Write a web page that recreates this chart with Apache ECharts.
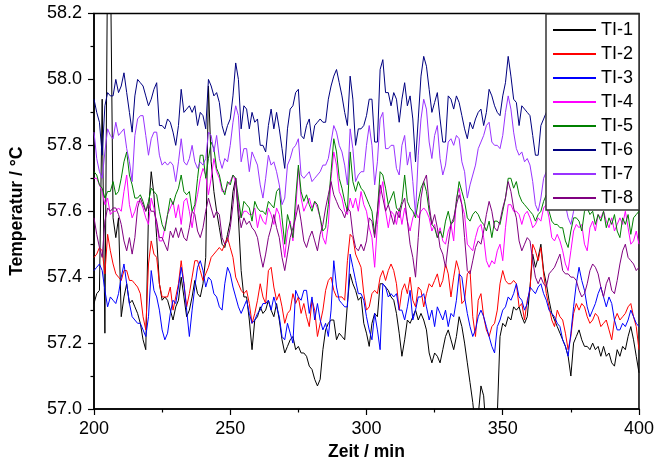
<!DOCTYPE html>
<html>
<head>
<meta charset="utf-8">
<script src="https://cdn.jsdelivr.net/npm/echarts@6/dist/echarts.min.js"></script>
<style>
html,body{margin:0;padding:0;background:#fff;}
#chart{width:657px;height:466px;}
</style>
</head>
<body>
<div id="chart"></div>
<script>
// Time axis: one sample per minute, 200 ... 400 min
const startMinute = 200;
const stepMinute = 1;

const seriesNames = ['TI-1','TI-2','TI-3','TI-4','TI-5','TI-6','TI-7','TI-8'];
const seriesColors = ['#000000','#ff0000','#0000ff','#ff00ff','#008000','#000080','#9933ff','#800080'];

const TI1 = [
57.32,57.35,57.36,57.94,57.23,58.40,58.40,57.58,57.52,57.58,
57.28,57.34,57.38,57.32,57.33,57.31,57.29,57.26,57.21,57.18,
57.60,57.72,57.65,57.52,57.38,57.33,57.34,57.33,57.30,57.27,
57.31,57.33,57.40,57.34,57.28,57.30,57.34,57.39,57.35,57.34,
57.38,57.46,57.98,57.75,57.66,57.60,57.55,57.50,57.49,57.53,
57.57,57.66,57.70,57.58,57.42,57.34,57.34,57.27,57.18,57.27,
57.28,57.31,57.29,57.30,57.33,57.30,57.28,57.32,57.27,57.21,
57.17,57.19,57.21,57.22,57.18,57.19,57.17,57.17,57.16,57.13,
57.12,57.09,57.07,57.09,57.18,57.24,57.26,57.27,57.27,57.21,
57.23,57.22,57.21,57.32,57.41,57.38,57.36,57.33,57.34,57.26,
57.23,57.19,57.26,57.29,57.28,57.38,57.38,57.37,57.36,57.34,
57.33,57.29,57.23,57.16,57.21,57.27,57.26,57.28,57.30,57.27,
57.29,57.27,57.24,57.17,57.14,57.17,57.16,57.14,57.18,57.22,
57.24,57.21,57.18,57.22,57.28,57.25,57.20,57.14,57.08,57.02,
56.94,56.98,57.07,57.04,56.92,56.90,56.90,56.92,56.98,57.22,
57.26,57.25,57.28,57.27,57.31,57.30,57.31,57.28,57.26,57.28,
57.37,57.47,57.43,57.46,57.50,57.42,57.38,57.33,57.29,57.27,
57.25,57.23,57.21,57.19,57.16,57.10,57.20,57.22,57.24,57.21,
57.19,57.19,57.18,57.20,57.18,57.19,57.16,57.19,57.16,57.17,
57.14,57.13,57.18,57.16,57.19,57.18,57.22,57.25,57.21,57.16,
57.11];

const TI2 = [
57.46,57.47,57.49,57.48,57.41,57.53,57.48,57.44,57.41,57.40,
57.39,57.42,57.42,57.39,57.39,57.38,57.37,57.35,57.28,57.24,
57.44,57.51,57.47,57.46,57.38,57.34,57.34,57.34,57.37,57.30,
57.34,57.38,57.45,57.38,57.31,57.35,57.40,57.45,57.45,57.42,
57.39,57.41,57.43,57.46,57.47,57.48,57.49,57.48,57.50,57.52,
57.49,57.46,57.40,57.38,57.36,57.35,57.36,57.32,57.26,57.29,
57.33,57.38,57.34,57.32,57.42,57.43,57.37,57.33,57.35,57.31,
57.26,57.29,57.30,57.35,57.32,57.34,57.29,57.32,57.28,57.25,
57.33,57.30,57.22,57.26,57.30,57.36,57.39,57.40,57.36,57.34,
57.34,57.34,57.33,57.45,57.53,57.52,57.47,57.45,57.43,57.35,
57.30,57.31,57.35,57.36,57.35,57.40,57.42,57.39,57.42,57.44,
57.42,57.38,57.30,57.36,57.38,57.35,57.40,57.33,57.31,57.37,
57.36,57.31,57.35,57.38,57.37,57.39,57.41,57.37,57.39,57.44,
57.41,57.34,57.40,57.45,57.42,57.32,57.33,57.41,57.42,57.28,
57.22,57.33,57.35,57.28,57.24,57.22,57.25,57.26,57.30,57.38,
57.42,57.39,57.38,57.38,57.39,57.38,57.31,57.32,57.27,57.33,
57.36,57.50,57.48,57.45,57.49,57.41,57.35,57.31,57.27,57.25,
57.30,57.28,57.27,57.23,57.18,57.22,57.29,57.32,57.30,57.32,
57.31,57.28,57.26,57.27,57.29,57.28,57.25,57.26,57.27,57.24,
57.21,57.27,57.29,57.27,57.28,57.29,57.31,57.32,57.28,57.25,
57.18];

const TI3 = [
57.42,57.43,57.44,57.42,57.36,57.31,57.34,57.33,57.32,57.35,
57.40,57.44,57.38,57.32,57.28,57.27,57.26,57.26,57.24,57.22,
57.28,57.42,57.36,57.34,57.30,57.24,57.21,57.23,57.29,57.33,
57.32,57.37,57.43,57.38,57.30,57.22,57.30,57.37,57.43,57.45,
57.42,57.37,57.40,57.39,57.35,57.34,57.31,57.30,57.38,57.43,
57.41,57.37,57.34,57.31,57.29,57.31,57.33,57.29,57.26,57.27,
57.29,57.30,57.32,57.32,57.33,57.30,57.34,57.31,57.28,57.22,
57.21,57.26,57.23,57.20,57.36,57.34,57.33,57.36,57.36,57.29,
57.34,57.27,57.32,57.27,57.24,57.26,57.22,57.30,57.45,57.37,
57.33,57.32,57.31,57.31,57.47,57.43,57.39,57.35,57.35,57.33,
57.28,57.24,57.21,57.29,57.24,57.18,57.38,57.37,57.34,57.35,
57.34,57.35,57.30,57.30,57.27,57.31,57.36,57.27,57.30,57.34,
57.34,57.35,57.31,57.27,57.30,57.25,57.31,57.29,57.27,57.30,
57.25,57.29,57.28,57.33,57.41,57.40,57.34,57.29,57.25,57.22,
57.24,57.28,57.30,57.28,57.25,57.22,57.19,57.17,57.25,57.27,
57.30,57.31,57.34,57.33,57.35,57.38,57.34,57.33,57.30,57.32,
57.37,57.36,57.35,57.37,57.38,57.35,57.33,57.30,57.29,57.28,
57.26,57.25,57.21,57.19,57.16,57.23,57.31,57.38,57.43,57.39,
57.36,57.31,57.28,57.30,57.32,57.35,57.37,57.34,57.31,57.34,
57.32,57.27,57.24,57.24,57.26,57.25,57.27,57.30,57.28,57.26,
57.25];

const TI4 = [
57.70,57.70,57.68,57.66,57.62,57.64,57.59,57.60,57.60,57.61,
57.60,57.66,57.71,57.62,57.58,57.60,57.63,57.63,57.61,57.58,
57.56,57.64,57.61,57.56,57.51,57.51,57.55,57.59,57.61,57.63,
57.58,57.62,57.56,57.63,57.64,57.60,57.55,57.61,57.65,57.70,
57.73,57.71,57.65,57.70,57.76,57.72,57.70,57.66,57.66,57.68,
57.69,57.71,57.69,57.62,57.58,57.60,57.60,57.59,57.59,57.61,
57.55,57.59,57.57,57.56,57.61,57.59,57.56,57.61,57.59,57.53,
57.46,57.54,57.57,57.51,57.60,57.73,57.64,57.60,57.62,57.64,
57.61,57.63,57.61,57.58,57.52,57.50,57.56,57.70,57.78,57.74,
57.66,57.64,57.60,57.59,57.64,57.61,57.64,57.60,57.66,57.62,
57.60,57.55,57.52,57.43,57.56,57.65,57.69,57.60,57.55,57.60,
57.59,57.56,57.61,57.56,57.61,57.57,57.54,57.58,57.60,57.58,
57.60,57.61,57.60,57.58,57.54,57.56,57.52,57.55,57.51,57.50,
57.54,57.56,57.51,57.64,57.67,57.62,57.59,57.50,57.49,57.48,
57.52,57.55,57.56,57.52,57.45,57.43,57.45,57.44,57.48,57.50,
57.45,57.55,57.62,57.62,57.60,57.60,57.59,57.56,57.59,57.60,
57.58,57.55,57.56,57.58,57.57,57.61,57.62,57.58,57.52,57.51,
57.53,57.51,57.48,57.44,57.42,57.48,57.54,57.56,57.55,57.56,
57.50,57.48,57.55,57.57,57.54,57.59,57.58,57.60,57.57,57.55,
57.58,57.54,57.56,57.58,57.56,57.60,57.55,57.50,57.51,57.54,
57.50];

const TI5 = [
57.72,57.71,57.68,57.67,57.64,57.66,57.66,57.69,57.65,57.66,
57.70,57.75,57.78,57.71,57.68,57.64,57.64,57.65,57.63,57.60,
57.63,57.67,57.66,57.65,57.60,57.56,57.54,57.59,57.64,57.62,
57.65,57.67,57.71,57.66,57.65,57.66,57.60,57.62,57.70,57.77,
57.77,57.70,57.76,57.81,57.79,57.73,57.71,57.67,57.65,57.69,
57.68,57.71,57.70,57.64,57.58,57.63,57.62,57.61,57.57,57.63,
57.61,57.60,57.60,57.59,57.63,57.62,57.61,57.66,57.67,57.58,
57.50,57.59,57.56,57.52,57.64,57.74,57.66,57.63,57.65,57.62,
57.60,57.63,57.62,57.58,57.54,57.55,57.62,57.72,57.82,57.78,
57.70,57.67,57.63,57.60,57.78,57.69,57.66,57.69,57.67,57.66,
57.64,57.62,57.60,57.53,57.60,57.72,57.71,57.67,57.62,57.64,
57.66,57.61,57.60,57.63,57.71,57.63,57.61,57.60,57.58,57.63,
57.67,57.69,57.66,57.60,57.56,57.55,57.52,57.54,57.52,57.57,
57.60,57.56,57.57,57.63,57.69,57.66,57.63,57.58,57.57,57.59,
57.60,57.59,57.57,57.56,57.54,57.57,57.52,57.57,57.57,57.56,
57.60,57.64,57.70,57.70,57.67,57.69,57.65,57.63,57.62,57.61,
57.60,57.59,57.57,57.59,57.60,57.63,57.65,57.60,57.57,57.56,
57.56,57.55,57.55,57.51,57.49,57.54,57.58,57.58,57.57,57.54,
57.60,57.61,57.59,57.60,57.56,57.59,57.57,57.60,57.55,57.58,
57.56,57.59,57.54,57.52,57.58,57.56,57.59,57.53,57.58,57.59,
57.60];

const TI6 = [
57.94,57.90,57.87,57.77,57.92,57.96,57.95,57.95,58.00,57.96,
57.98,58.02,57.96,57.90,57.84,57.95,58.00,57.99,57.98,57.95,
57.92,57.94,57.97,57.99,57.86,57.86,57.85,57.88,57.87,57.84,
57.80,57.86,57.97,57.90,57.91,57.92,57.90,57.92,57.86,57.90,
57.89,57.85,58.00,57.98,57.95,57.96,57.93,57.86,57.83,57.86,
57.88,57.95,58.05,58.00,57.85,57.92,57.91,57.85,57.90,57.87,
57.88,57.80,57.80,57.78,57.86,57.91,57.85,57.90,57.85,57.79,
57.73,57.85,57.91,57.92,57.96,57.97,57.83,57.82,57.86,57.88,
57.81,57.86,57.87,57.88,57.87,57.87,57.94,57.98,58.01,58.03,
57.99,57.95,57.90,57.86,58.01,57.94,57.80,57.85,57.85,57.86,
57.89,57.94,57.94,57.81,57.81,58.03,58.06,57.96,57.96,57.92,
57.96,57.94,57.87,57.94,57.99,57.92,57.95,57.88,57.75,57.88,
58.01,58.07,58.04,57.97,57.90,57.93,57.96,57.88,57.81,57.81,
57.95,57.94,57.91,57.95,57.93,57.89,57.85,57.82,57.87,57.85,
57.88,57.90,57.91,57.86,57.90,57.97,57.95,57.92,57.90,57.89,
57.95,57.99,58.07,58.01,57.94,57.93,57.86,57.92,57.91,57.90,
57.89,57.83,57.77,57.77,57.86,57.88,57.90,57.86,57.92,57.88,
57.84,57.90,57.95,57.88,57.82,57.86,57.91,57.87,57.93,57.89,
57.84,57.88,57.92,57.86,57.83,57.89,57.94,57.90,57.85,57.88,
57.92,57.87,57.83,57.88,57.91,57.86,57.84,57.89,57.86,57.84,
57.83];

const TI7 = [
57.84,57.76,57.72,57.70,57.78,57.85,57.83,57.82,57.87,57.83,
57.84,57.85,57.79,57.75,57.69,57.83,57.88,57.89,57.89,57.83,
57.77,57.82,57.84,57.84,57.77,57.74,57.75,57.74,57.75,57.74,
57.69,57.75,57.82,57.75,57.74,57.76,57.80,57.75,57.73,57.75,
57.74,57.76,57.84,57.83,57.78,57.83,57.76,57.73,57.76,57.75,
57.80,57.87,57.92,57.89,57.75,57.79,57.79,57.72,57.78,57.76,
57.74,57.68,57.64,57.70,57.77,57.74,57.75,57.72,57.68,57.62,
57.64,57.74,57.76,57.79,57.80,57.82,57.71,57.70,57.71,57.72,
57.69,57.70,57.71,57.72,57.74,57.74,57.76,57.81,57.86,57.84,
57.80,57.78,57.74,57.68,57.85,57.79,57.69,57.71,57.72,57.72,
57.80,57.86,57.80,57.68,57.75,57.88,57.90,57.79,57.79,57.80,
57.80,57.73,57.71,57.80,57.83,57.74,57.78,57.69,57.59,57.77,
57.88,57.94,57.91,57.81,57.76,57.83,57.86,57.76,57.71,57.74,
57.81,57.82,57.80,57.83,57.82,57.75,57.72,57.64,57.68,57.71,
57.74,57.79,57.81,57.83,57.86,57.87,57.81,57.80,57.80,57.79,
57.83,57.90,57.95,57.91,57.84,57.79,57.77,57.78,57.75,57.76,
57.74,57.69,57.62,57.60,57.64,57.70,57.72,57.75,57.70,57.66,
57.72,57.68,57.64,57.62,57.58,57.56,57.60,57.66,57.72,57.70,
57.75,57.72,57.68,57.74,57.78,57.73,57.70,57.76,57.80,57.74,
57.69,57.72,57.77,57.73,57.70,57.74,57.71,57.68,57.66,57.68,
57.67];

const TI8 = [
57.58,57.53,57.49,57.46,57.57,57.61,57.60,57.61,57.61,57.59,
57.56,57.51,57.48,57.52,57.47,57.52,57.61,57.64,57.62,57.60,
57.62,57.60,57.60,57.57,57.52,57.52,57.50,57.48,57.54,57.52,
57.55,57.52,57.55,57.52,57.51,57.55,57.60,57.59,57.54,57.52,
57.55,57.60,57.64,57.61,57.58,57.60,57.59,57.52,57.50,57.51,
57.55,57.62,57.70,57.60,57.55,57.58,57.56,57.57,57.55,57.54,
57.52,57.47,57.43,57.47,57.52,57.55,57.59,57.55,57.52,57.46,
57.42,57.47,57.52,57.55,57.58,57.62,57.57,57.51,57.49,57.52,
57.54,57.51,57.48,57.53,57.56,57.61,57.65,57.69,57.65,57.63,
57.61,57.60,57.58,57.61,57.60,57.53,57.49,57.48,57.50,57.48,
57.51,57.58,57.57,57.52,57.60,57.68,57.64,57.60,57.62,57.59,
57.56,57.60,57.58,57.62,57.64,57.57,57.50,57.46,57.40,57.52,
57.64,57.69,57.71,57.62,57.56,57.59,57.55,57.49,57.47,57.43,
57.50,57.56,57.58,57.62,57.65,57.62,57.52,57.42,57.41,57.45,
57.49,57.51,57.50,57.54,57.59,57.63,57.60,57.55,57.54,57.57,
57.61,57.64,57.69,57.66,57.61,57.58,57.51,57.48,57.50,57.52,
57.51,57.45,57.40,57.38,57.40,57.38,57.37,57.41,57.42,57.43,
57.45,57.47,57.42,57.41,57.41,57.40,57.40,57.39,57.36,57.34,
57.35,57.38,57.42,57.44,57.43,57.41,57.37,57.34,57.38,57.40,
57.36,57.35,57.39,57.44,57.48,57.50,57.46,57.45,57.44,57.42,
57.43];

const allValues = [TI1, TI2, TI3, TI4, TI5, TI6, TI7, TI8];

const FONT = "Arial, 'Liberation Sans', Helvetica, sans-serif";

function toPairs(vals) {
  return vals.map((v, i) => [startMinute + i * stepMinute, v]);
}

const chart = echarts.init(document.getElementById('chart'), null, {renderer: 'canvas'});

const series = seriesNames.map((name, k) => ({
  name: name,
  type: 'line',
  data: toPairs(allValues[k]),
  symbol: 'none',
  showSymbol: false,
  color: seriesColors[k],
  lineStyle: {width: 1, color: seriesColors[k]},
  clip: true,
  silent: true
}));

chart.setOption({
  animation: false,
  backgroundColor: '#ffffff',
  grid: {
    left: 91.5, right: 17.5, top: 13.5, bottom: 56,
    show: true, borderColor: '#000', borderWidth: 1.5, backgroundColor: 'transparent'
  },
  legend: {
    data: seriesNames,
    orient: 'vertical',
    left: 546,
    top: 14,
    padding: [4, 6, 0, 7],
    itemGap: 0,
    itemWidth: 43,
    itemHeight: 2,
    icon: 'rect',
    backgroundColor: '#ffffff',
    borderColor: '#333',
    borderWidth: 1.5,
    borderRadius: 0,
    textStyle: {fontFamily: FONT, fontSize: 18, color: '#000', lineHeight: 24, padding: [0, 0, 0, 0]},
    z: 10
  },
  xAxis: {
    type: 'value',
    min: 200, max: 400, interval: 50,
    name: 'Zeit / min',
    nameLocation: 'middle',
    nameGap: 34,
    nameTextStyle: {fontFamily: FONT, fontSize: 17.5, fontWeight: 'bold', color: '#000'},
    axisLine: {show: true, onZero: false, lineStyle: {color: '#000', width: 1.5}},
    axisTick: {show: true, inside: false, length: 6, lineStyle: {color: '#000', width: 1.2}},
    minorTick: {show: true, splitNumber: 2, length: 3.5, lineStyle: {color: '#000', width: 1.2}},
    axisLabel: {fontFamily: FONT, fontSize: 18, color: '#000', margin: 11},
    splitLine: {show: false},
    minorSplitLine: {show: false}
  },
  yAxis: {
    type: 'value',
    min: 57.0, max: 58.2, interval: 0.2,
    name: 'Temperatur / °C',
    nameLocation: 'middle',
    nameGap: 68,
    nameRotate: 90,
    nameTextStyle: {fontFamily: FONT, fontSize: 17.5, fontWeight: 'bold', color: '#000'},
    axisLine: {show: true, onZero: false, lineStyle: {color: '#000', width: 1.5}},
    axisTick: {show: true, inside: false, length: 6, lineStyle: {color: '#000', width: 1.2}},
    minorTick: {show: true, splitNumber: 2, length: 3.5, lineStyle: {color: '#000', width: 1.2}},
    axisLabel: {fontFamily: FONT, fontSize: 18, color: '#000', margin: 12,
      formatter: v => Number(v).toFixed(1)},
    splitLine: {show: false},
    minorSplitLine: {show: false}
  },
  series: series
});
</script>
</body>
</html>
